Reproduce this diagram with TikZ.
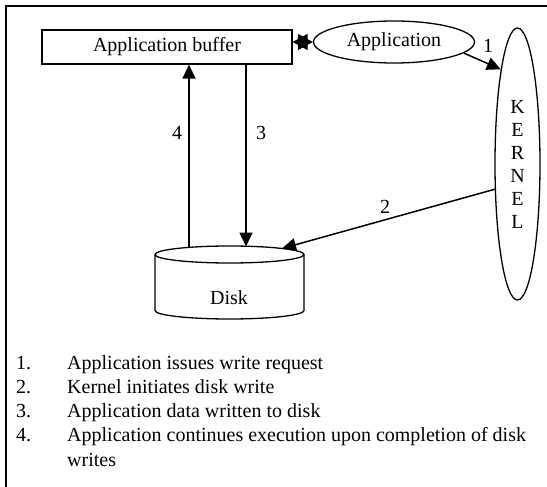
\documentclass[tikz,border=0pt]{standalone}
\usepackage{fontspec}
\setmainfont{Liberation Serif}
\usetikzlibrary{shapes.geometric,arrows.meta}

\begin{document}
\begin{tikzpicture}[x=1pt,y=-1pt,
  every node/.style={font=\fontsize{20}{24}\selectfont},
  flow/.style={line width=1.5pt,-{Triangle[length=14pt,width=13pt]}},
  box/.style={draw,line width=1.3pt,minimum width=250pt,minimum height=34pt,inner sep=0pt},
  oval/.style={draw,ellipse,line width=1.3pt,inner sep=0pt}]
\useasboundingbox (0,0) rectangle (547,487);

% The outer frame
\draw[line width=2pt] (6,6) rectangle (620,560);

% The buffer, the application and the kernel
\node[box] (buffer) at (167,47) {Application buffer};
\node[oval,minimum width=161pt,minimum height=42pt] (app) at (394,42) {Application};
\node[oval,minimum width=45pt,minimum height=272pt,align=center,
  font=\fontsize{20}{23}\selectfont] (kernel) at (517.5,164) {K\\E\\R\\N\\E\\L};

% The disk
\node[minimum width=149pt,minimum height=73pt,inner sep=0pt] (disk) at (229.5,282.5) {};
\draw[line width=1.3pt] (229.5,254.5) ellipse (74.5 and 8.5);
\draw[line width=1.3pt] (155,254.5) -- (155,310.5) arc (180:0:74.5 and 8.5) -- (304,254.5);
\node (disklabel) at (229,298) {Disk};

% The connectors
\coordinate (top3) at (246,246.5);
\coordinate (top4) at (189,247.5);
\coordinate (top2) at (282,248.5);
\draw[flow] (buffer.south -| top3) -- (top3);
\draw[flow] (top4) -- (buffer.south -| top4);
\draw[flow] (app.-9) -- (kernel.100);
\draw[flow] (kernel.228) -- (top2);
\draw[line width=1.2pt,{Triangle[length=15pt,width=16pt]}-{Triangle[length=15pt,width=16pt]}]
  (buffer.east |- app.west) -- (app.west);

\node (lab1) at (488,46) {1};
\node (lab2) at (385,207) {2};
\node (lab3) at (261,133) {3};
\node (lab4) at (177,133) {4};

% The legend
\foreach \i/\txt in {1/Application issues write request,
  2/Kernel initiates disk write,
  3/Application data written to disk,
  4/Application continues execution upon completion of disk}{
  \node[anchor=base west,inner sep=0pt] (num\i) at (16,345+24.2*\i) {\i.};
  \node[anchor=base west,inner sep=0pt] (item\i) at (67,345+24.2*\i) {\txt};
}
\node[anchor=base west,inner sep=0pt] (item5) at (67,466) {writes};

\end{tikzpicture}
\end{document}
